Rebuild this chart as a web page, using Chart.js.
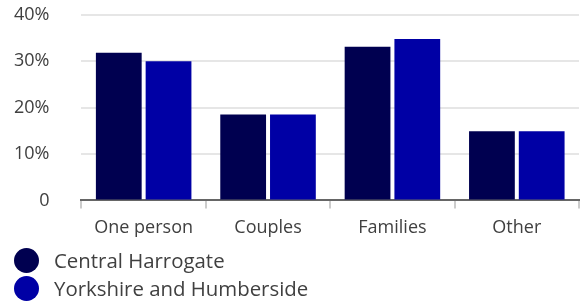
<!DOCTYPE html>
<html>
<head>
<meta charset="utf-8">
<script src="https://cdn.jsdelivr.net/npm/chart.js@4"></script>
<style>
  body { margin: 0; background: #fff; font-family: 'Open Sans', sans-serif; }
  #wrap { position: relative; width: 585px; height: 251px; }
  #legend { position: absolute; left: 14px; top: 246px; margin: 0; padding: 0; list-style: none; }
  #legend li { display: flex; align-items: center; height: 28px; font-size: 20.4px; color: #404040; white-space: nowrap; }
  #legend span { display: inline-block; width: 25px; height: 25px; border-radius: 50%; margin-right: 15px; }
</style>
</head>
<body>
<div id="wrap"><canvas id="chart"></canvas></div>
<ul id="legend"></ul>
<script>
const categories = ['One person', 'Couples', 'Families', 'Other'];
const centralHarrogate = [31.8, 18.5, 33.1, 14.9];
const yorkshireHumberside = [30.0, 18.5, 34.8, 14.9];
const yTicks = [0, 10, 20, 30, 40];

const colors = ['#000050', '#0000a5'];
const ctx = document.getElementById('chart').getContext('2d');

const chart = new Chart(ctx, {
  type: 'bar',
  data: {
    labels: categories,
    datasets: [{
      label: 'Central Harrogate',
      data: centralHarrogate,
      backgroundColor: colors[0]
    }, {
      label: 'Yorkshire and Humberside',
      data: yorkshireHumberside,
      backgroundColor: colors[1]
    }]
  },
  options: {
    responsive: true,
    maintainAspectRatio: false,
    animation: false,
    categoryPercentage: 0.8,
    barPercentage: 0.92,
    layout: { padding: { top: 4, right: 6, left: 10, bottom: 3 } },
    plugins: {
      legend: { display: false },
      tooltip: { enabled: false }
    },
    scales: {
      x: {
        grid: {
          drawOnChartArea: false,
          tickLength: 8,
          lineWidth: 2,
          color: c => c.index === categories.length ? 'rgba(0,0,0,0)' : '#cccccc'
        },
        border: { color: '#666666', width: 2 },
        ticks: {
          color: '#404040',
          padding: 9,
          font: { family: 'Open Sans', size: 18 }
        }
      },
      y: {
        min: 0,
        max: 40,
        afterBuildTicks: axis => { axis.ticks = yTicks.map(v => ({ value: v })); },
        grid: { color: '#e6e6e6', lineWidth: 2, tickLength: 28, tickColor: 'rgba(0,0,0,0)' },
        border: { display: false },
        ticks: {
          color: '#404040',
          padding: 4,
          font: { family: 'Open Sans', size: 18 },
          callback: v => v === 0 ? '0' : v + '%'
        }
      }
    }
  }
});

const legend = document.getElementById('legend');
chart.data.datasets.forEach(ds => {
  const li = document.createElement('li');
  const dot = document.createElement('span');
  dot.style.background = ds.backgroundColor;
  li.appendChild(dot);
  li.appendChild(document.createTextNode(ds.label));
  legend.appendChild(li);
});
</script>
</body>
</html>
